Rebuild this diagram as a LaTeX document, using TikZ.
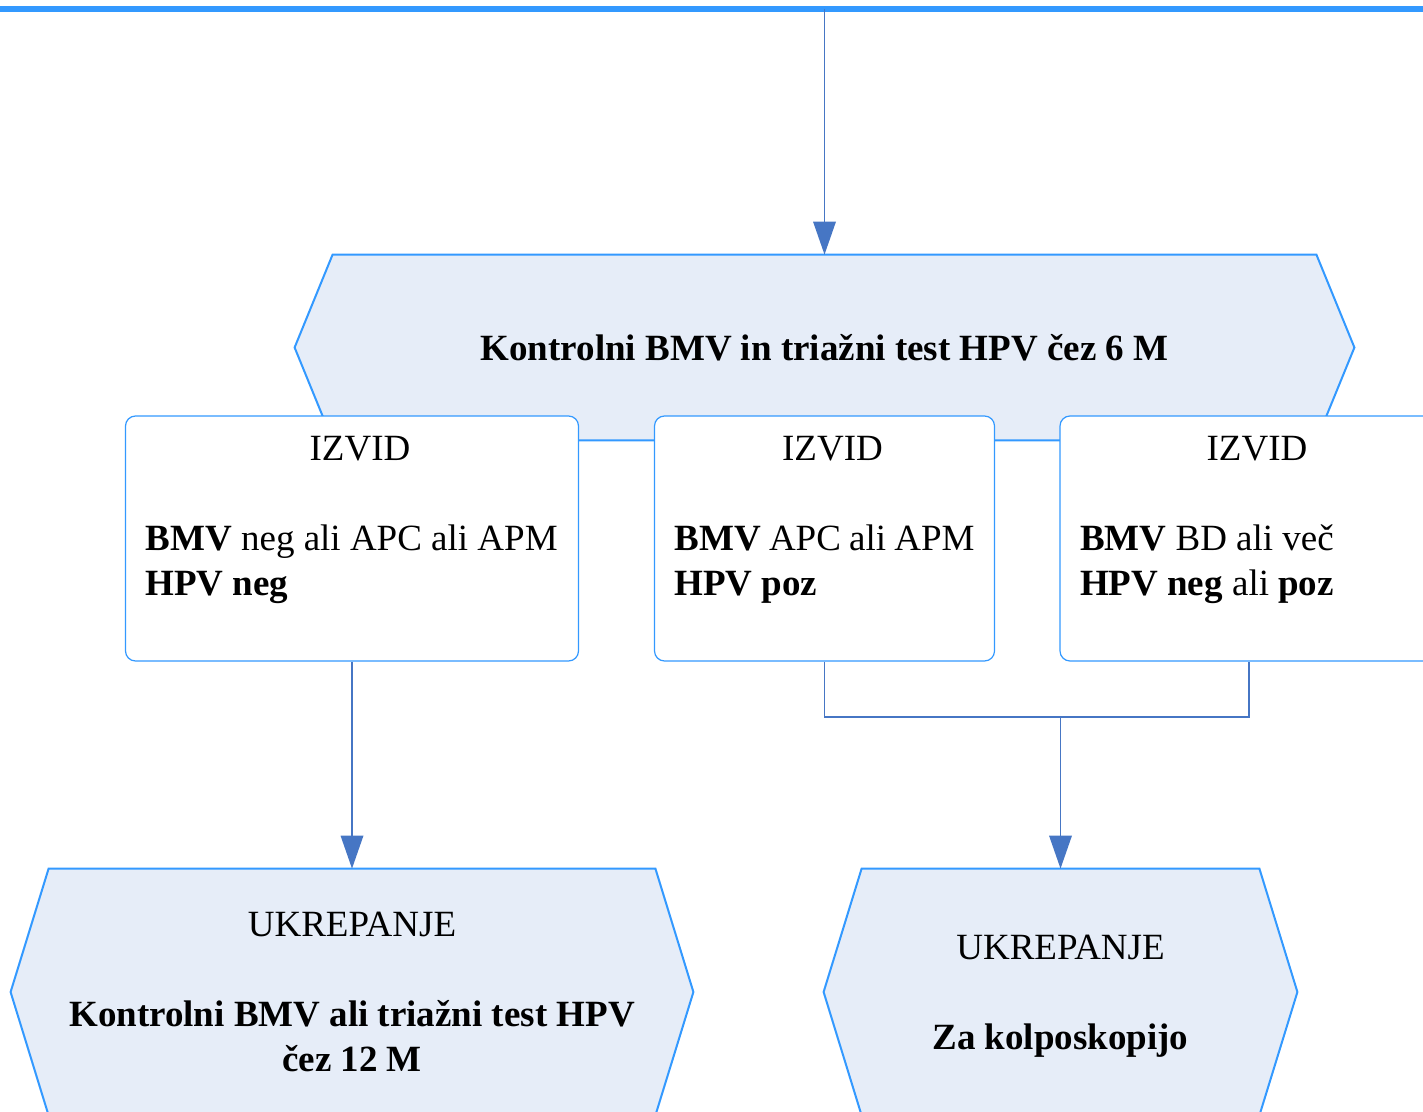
\documentclass[tikz,border=0pt]{standalone}
\usepackage{fontspec}
\setmainfont{Liberation Serif}
\usetikzlibrary{arrows.meta, calc, backgrounds}
\definecolor{robmoder}{HTML}{3399FF}
\definecolor{polnilo}{HTML}{E6EDF8}
\definecolor{povezava}{HTML}{4676C4}

\tikzset{
  heksagon/.style={draw=robmoder, fill=polnilo, line width=1pt},
  ukrep/.style={inner sep=0pt, align=center, minimum height=123pt},
  izvid/.style={draw=robmoder, fill=white, line width=0.6pt, rounded corners=5pt,
    inner xsep=10pt, inner ysep=0pt, align=flush left, minimum height=122.5pt},
  povez/.style={draw=povezava, line width=0.75pt},
  puscica/.style={povez, -{Triangle[width=11.3pt,length=16.5pt]}}
}

\begin{document}
\begin{tikzpicture}[x=0.5pt, y=-0.5pt, font=\fontsize{18.5}{22.5}\selectfont]
\useasboundingbox (0,0) rectangle (1423,1112);

% Top bar
\coordinate (levo) at (0,9);
\coordinate (desno) at (1423,9);
\coordinate (vrh) at (824.5,9);
\draw[robmoder, line width=3pt] (levo) -- (desno);

% Control after 6 months
\node[ukrep, minimum width=491.5pt, minimum height=92.5pt] (kontrola) at (824.5,347.5)
  {\textbf{Kontrolni BMV in triažni test HPV čez 6 M}};

% Findings
\node[izvid, text width=206.5pt] (izvid1) at (352,538.5)
  {\strut\hspace*{\fill}\hspace*{8pt}IZVID\hspace*{\fill}\null\\[22.5pt]\textbf{BMV}~neg ali APC ali~APM\\\textbf{HPV neg}\\\rule[-3.75pt]{0pt}{0pt}};
\node[izvid, text width=150pt] (izvid2) at (824.5,538.5)
  {\strut\hspace*{\fill}\hspace*{8pt}IZVID\hspace*{\fill}\null\\[22.5pt]\textbf{BMV}~APC~ali~APM\\\textbf{HPV poz}\\\rule[-3.75pt]{0pt}{0pt}};
\node[izvid, text width=169pt] (izvid3) at (1249,538.5)
  {\strut\hspace*{\fill}\hspace*{8pt}IZVID\hspace*{\fill}\null\\[22.5pt]\textbf{BMV} BD ali več\\\textbf{HPV neg} ali \textbf{poz}\\\rule[-3.75pt]{0pt}{0pt}};

% Actions
\node[ukrep, minimum width=303pt] (ukrep12) at (352,992)
  {UKREPANJE\\[22.5pt]\textbf{Kontrolni BMV ali triažni test HPV}\\\textbf{čez 12 M}};
\node[ukrep, minimum width=198.5pt] (kolpo) at (1060.5,992)
  {UKREPANJE\\[22.5pt]\raisebox{0pt}[\height][0pt]{\textbf{Za kolposkopijo}}};

% Hexagon outlines behind the text
\begin{scope}[on background layer]
\foreach \h in {kontrola,ukrep12,kolpo}
  \draw[heksagon] (\h.north west) -- (\h.north east) -- ($(\h.east)+(38,0)$)
    -- (\h.south east) -- (\h.south west) -- ($(\h.west)+(-38,0)$) -- cycle;
\end{scope}

% Connectors
\coordinate (spoj) at (1060.5,717);
\draw[puscica] (vrh) -- (kontrola.north);
\draw[puscica] (izvid1.south) -- (ukrep12.north);
\draw[povez] (izvid2.south) |- (spoj) -| (izvid3.south);
\draw[puscica] (spoj) -- (kolpo.north);
\end{tikzpicture}
\end{document}
